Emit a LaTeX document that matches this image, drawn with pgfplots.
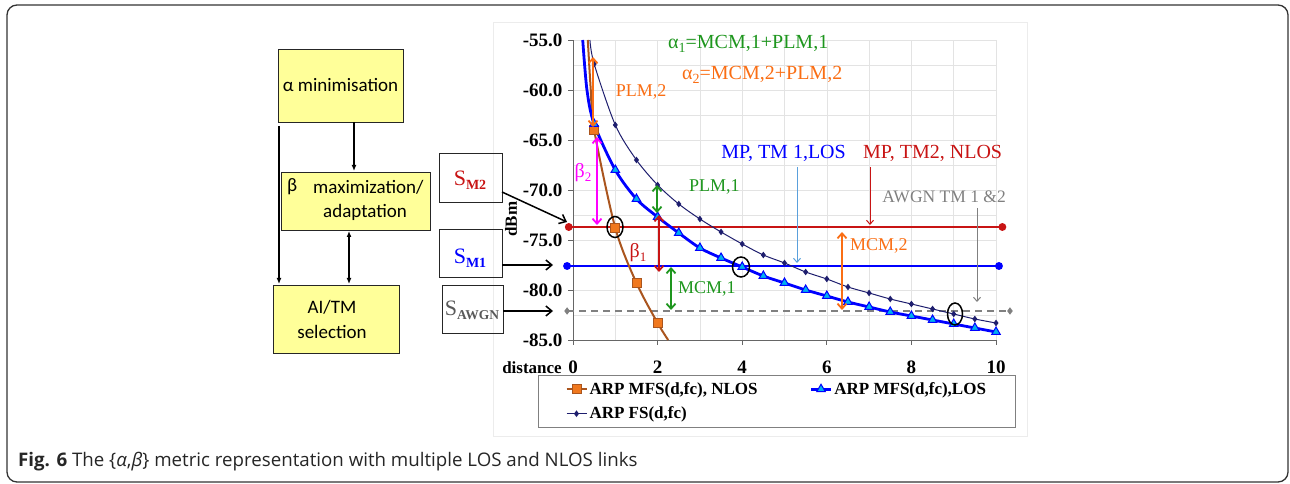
\documentclass[border=0pt]{standalone}
\usepackage{pgfplots}
\pgfplotsset{compat=1.18}
\usetikzlibrary{arrows.meta}
\usepackage{fontspec}
\setmainfont{Liberation Serif}
\newfontfamily\flow{Carlito}
\newfontfamily\capfont{Open Sans}
\newcommand\fs[1]{\fontsize{#1}{#1}\selectfont}
\definecolor{cgreen}{RGB}{30,150,30}
\definecolor{corange}{RGB}{250,110,20}
\definecolor{cred}{RGB}{200,20,20}
\definecolor{cblue}{RGB}{0,0,255}
\definecolor{cnavy}{RGB}{30,30,110}
\definecolor{cbrown}{RGB}{170,85,30}
\definecolor{csq}{RGB}{240,120,30}
\definecolor{ccyan}{RGB}{0,176,240}
\definecolor{cyellow}{RGB}{255,255,153}
\definecolor{cmag}{RGB}{255,0,255}
\definecolor{clblue}{RGB}{90,160,220}
\definecolor{cgrey}{RGB}{128,128,128}
\begin{document}
\begin{tikzpicture}[x=1pt,y=1pt]
\useasboundingbox (0,0) rectangle (1290,484);
% outer frame
\draw[black!80, line width=1.3pt, rounded corners=10pt] (7,479) rectangle (1288,2);
% chart area
\draw[gray!15, line width=0.8pt] (493,462) rectangle (1027,48);
\begin{axis}[
  at={(573pt,144pt)}, anchor=south west,
  scale only axis, width=423pt, height=300pt,
  xmin=0, xmax=10, ymin=-85, ymax=-55,
  clip=false,
  axis x line=bottom, axis y line=left,
  axis line style={-, draw=gray!80!black, line width=0.8pt},
  xtick={0,2,...,10}, minor xtick={1,3,...,9},
  ytick={-85,-80,...,-55}, minor ytick={-82.5,-77.5,...,-57.5},
  grid=both,
  major grid style={draw=gray!22, line width=0.6pt},
  minor grid style={draw=gray!22, line width=0.6pt},
  tick align=outside, major tick length=5pt, minor tick length=0pt,
  tick style={draw=gray!80!black, line width=0.8pt},
  tick label style={font=\fs{19}\bfseries},
  /pgf/number format/assume math mode=true,
  yticklabel style={xshift=-2pt, /pgf/number format/.cd, fixed, fixed zerofill, precision=1},
  xticklabel style={yshift=-12pt},
  legend columns=2,
  legend cell align=left,
  legend image code/.code={\draw[#1, mark indices={2}] plot coordinates {(0pt,0pt) (10pt,0pt) (20pt,0pt)};},
  legend style={at={(-0.0827,-0.1167)}, anchor=north west, draw=gray, line width=1pt, fill=white,
    font=\fs{17}\bfseries, inner xsep=27pt, inner ysep=5pt, row sep=7pt,
    /tikz/every even column/.append style={column sep=50pt}},
]
% horizontal reference levels
\addplot[cred, line width=1.8pt, mark=*, mark size=3pt, forget plot] coordinates {(-0.1,-73.7) (10.15,-73.7)};
\addplot[cblue, line width=1.8pt, mark=*, mark size=3pt, forget plot] coordinates {(-0.14,-77.6) (10.07,-77.6)};
\addplot[cgrey, line width=1.5pt, dash pattern=on 7pt off 5pt, mark=diamond*, mark size=2.5pt, mark options={solid}, forget plot] coordinates {(-0.14,-82.1) (10.33,-82.1)};
% NLOS
\addplot[cbrown, line width=2pt, smooth, tension=0.5, mark=square*, mark size=4.5pt,
  mark options={fill=csq, draw=cbrown, line width=0.8pt}, mark indices={3,4,5,6}]
  coordinates {(0.35,-55) (0.42,-60) (0.5,-64.0) (1,-73.8) (1.5,-79.3) (2,-83.3) (2.25,-85)};
\addlegendentry{ARP MFS(d,fc), NLOS}
% LOS
\addplot[cblue, line width=2.8pt, smooth, tension=0.5, mark=triangle*, mark size=5pt,
  mark options={fill=ccyan, draw=cblue, line width=1pt}, mark indices={3,...,22}]
  coordinates {(0.23,-55) (0.33,-60) (0.5,-63.4) (1,-68.0) (1.5,-70.9) (2,-72.7) (2.5,-74.3) (3,-75.8) (3.5,-76.8) (4,-77.7) (4.5,-78.6) (5,-79.3) (5.5,-80.0) (6,-80.6) (6.5,-81.2) (7,-81.7) (7.5,-82.2) (8,-82.6) (8.5,-83.0) (9,-83.4) (9.5,-83.8) (10,-84.2)};
\addlegendentry{ARP MFS(d,fc),LOS}
% FS
\addplot[cnavy, line width=1pt, smooth, tension=0.5, mark=diamond*, mark size=2.5pt,
  mark options={fill=cnavy, draw=cnavy}, mark indices={2,...,21}]
  coordinates {(0.40,-55) (0.5,-57.4) (1,-63.5) (1.5,-67.0) (2,-69.5) (2.5,-71.4) (3,-72.9) (3.5,-74.2) (4,-75.4) (4.5,-76.5) (5,-77.3) (5.5,-78.2) (6,-78.9) (6.5,-79.7) (7,-80.3) (7.5,-80.9) (8,-81.4) (8.5,-81.9) (9,-82.4) (9.5,-82.9) (10,-83.3)};
\addlegendentry{ARP FS(d,fc)}
\end{axis}
% axis labels
\node[font=\fs{17}\bfseries] at (532,116) {distance};
\node[font=\fs{17}\bfseries, rotate=90] at (511,265) {dBm};
% annotation texts
\node[anchor=west, text=cgreen, font=\fs{20}, inner sep=0] at (668,440) {α\raisebox{-3.5pt}{\fs{14}1}=MCM,1+PLM,1};
\node[anchor=west, text=corange, font=\fs{20}, inner sep=0] at (682,409) {α\raisebox{-3.5pt}{\fs{14}2}=MCM,2+PLM,2};
\node[text=corange, font=\fs{18}, inner sep=0] at (641,392) {PLM,2};
\node[anchor=east, text=cblue, font=\fs{20}, inner sep=0] at (846,331) {MP, TM 1,LOS};
\node[anchor=west, text=cred, font=\fs{20}, inner sep=0] at (863,331) {MP, TM2, NLOS};
\node[text=cgrey, font=\fs{17.5}, inner sep=0] at (944,287) {AWGN TM 1 \&2};
\node[anchor=west, text=corange, font=\fs{18}, inner sep=0] at (850,238) {MCM,2};
\node[anchor=west, text=cgreen, font=\fs{18}, inner sep=0] at (689,297) {PLM,1};
\node[anchor=west, text=cgreen, font=\fs{18}, inner sep=0] at (678,195) {MCM,1};
\node[text=cred, font=\fs{20}, inner sep=0] at (638,231) {β\raisebox{-3.5pt}{\fs{13}1}};
\node[text=cmag, font=\fs{20}, inner sep=0] at (583,311) {β\raisebox{-3.5pt}{\fs{13}2}};
% double arrows
\tikzset{dbl/.style={line width=1.8pt, {Straight Barb[length=5pt,width=9pt]}-{Straight Barb[length=5pt,width=9pt]}},
         sgl/.style={line width=1pt, -{Straight Barb[length=4pt,width=7pt]}}}
\draw[dbl, corange] (593,427) -- (593,357);
\draw[dbl, cmag] (597,347) -- (597,259);
\draw[dbl, cred] (659,269) -- (659,212);
\draw[dbl, cgreen] (657,299) -- (657,271);
\draw[dbl, cgreen] (671,217) -- (671,174);
\draw[dbl, corange] (842,252) -- (842,174);
\draw[sgl, clblue] (797,317) -- (797,221);
\draw[sgl, cred] (870,317) -- (870,259);
\draw[sgl, cgrey] (977,276) -- (977,182);
% circles
\draw[black, line width=1.5pt] (615,257) ellipse [x radius=8pt, y radius=10.5pt];
\draw[black, line width=1.5pt] (741,217) ellipse [x radius=8.5pt, y radius=10pt];
\draw[black, line width=1.5pt] (955,170) ellipse [x radius=7.5pt, y radius=11pt];
% flowchart
\draw[black!85, line width=0.8pt, fill=cyellow] (278,435) rectangle (403,362);
\draw[black!85, line width=0.8pt, fill=cyellow] (281,312) rectangle (430,254);
\draw[black!85, line width=0.8pt, fill=cyellow] (273,199) rectangle (399,131);
\node[font=\flow\fs{19}] at (340.5,398.5) {α minimisation};
\node[font=\flow\fs{19}, anchor=west, inner sep=0] at (287,297) {β};
\node[font=\flow\fs{19}, anchor=west, inner sep=0] at (313,297) {maximization/};
\node[font=\flow\fs{19}, anchor=west, inner sep=0] at (323,272) {adaptation};
\node[font=\flow\fs{19}] at (332,177) {AI/TM};
\node[font=\flow\fs{19}] at (332,152) {selection};
\tikzset{fa/.style={line width=1.5pt, -{Latex[length=6pt,width=5pt]}}}
\draw[fa] (279,358) -- (279,200);
\draw[fa] (354,362) -- (354,313);
\draw[line width=1.5pt, {Latex[length=6pt,width=5pt]}-{Latex[length=6pt,width=5pt]}] (349,253) -- (349,200);
% S boxes
\draw[black!85, line width=0.8pt] (439,331) rectangle (502,282);
\draw[black!85, line width=0.8pt] (439,255) rectangle (502,207);
\draw[black!85, line width=0.8pt] (442,199) rectangle (503,151);
\node[text=cred] at (470,304) {\fs{22}S\raisebox{-4pt}{\fs{14}\bfseries M2}};
\node[text=cblue] at (470,226) {\fs{22}S\raisebox{-4pt}{\fs{14}\bfseries M1}};
\node[text=black!65] at (472,174) {\fs{22}S\raisebox{-4pt}{\fs{13.5}\bfseries AWGN}};
\tikzset{sa/.style={line width=1.5pt, -{Straight Barb[length=6pt,width=10pt]}}}
\draw[sa] (502,292) -- (567,262);
\draw[sa] (502,219) -- (553,219);
\draw[sa] (503,173) -- (553,173);
% caption
\node[anchor=base west, inner sep=0, text=black!85] at (18,17) {\capfont\fs{18.7}\textbf{Fig. 6} The \{\textit{α},\textit{β}\} metric representation with multiple LOS and NLOS links};
\end{tikzpicture}
\end{document}
